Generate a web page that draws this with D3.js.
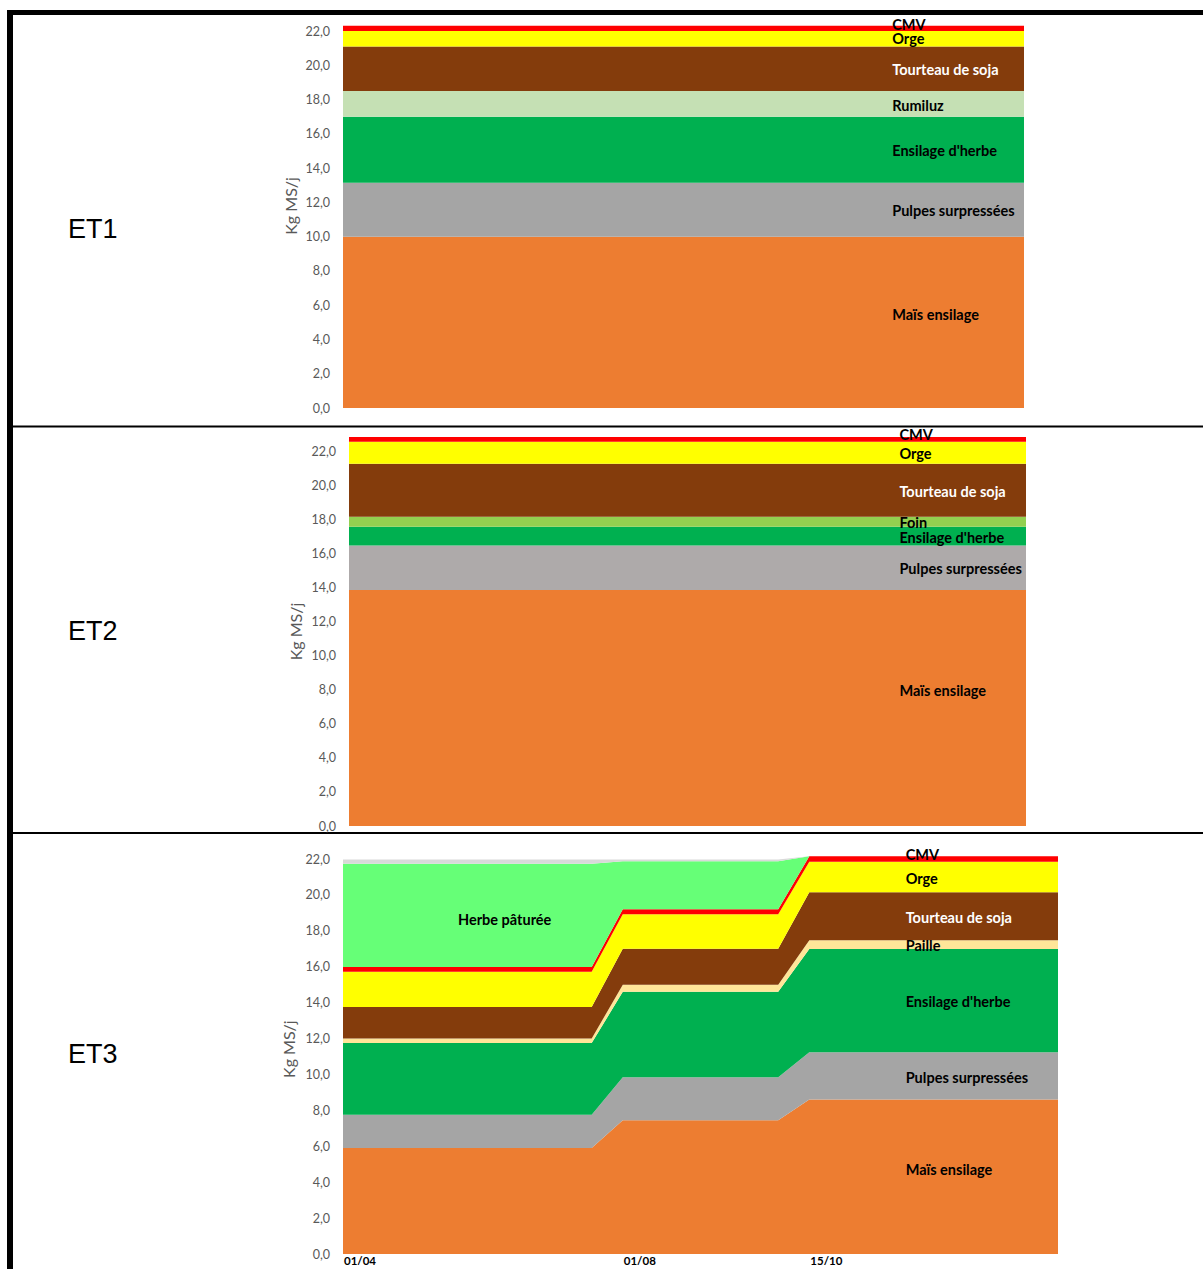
<!DOCTYPE html>
<html>
<head>
<meta charset="utf-8">
<script src="https://cdn.jsdelivr.net/npm/d3@7/dist/d3.min.js"></script>
<style>
  body { margin: 0; background: #fff; }
  svg { display: block; }
</style>
</head>
<body>
<div id="chart"></div>
<script>
// ET1 - ration constante
const et1Series = ['Maïs ensilage', 'Pulpes surpressées', "Ensilage d'herbe", 'Rumiluz', 'Tourteau de soja', 'Orge', 'CMV'];
const et1Values = [10.0, 3.15, 3.85, 1.5, 2.6, 0.9, 0.3];

// ET2 - ration constante
const et2Series = ['Maïs ensilage', 'Pulpes surpressées', "Ensilage d'herbe", 'Foin', 'Tourteau de soja', 'Orge', 'CMV'];
const et2Values = [13.85, 2.6, 1.1, 0.6, 3.1, 1.3, 0.27];

// ET3 - trois périodes
const et3Series = ['Maïs ensilage', 'Pulpes surpressées', "Ensilage d'herbe", 'Paille', 'Tourteau de soja', 'Orge', 'CMV', 'Herbe pâturée', 'Autre'];
const et3Mais = [5.9, 7.45, 8.6];
const et3Pulpes = [1.85, 2.4, 2.64];
const et3EnsHerbe = [4.0, 4.75, 5.75];
const et3Paille = [0.25, 0.4, 0.48];
const et3Tourteau = [1.76, 2.0, 2.68];
const et3Orge = [1.96, 1.92, 1.69];
const et3Cmv = [0.27, 0.28, 0.31];
const et3Herbe = [5.75, 2.67, 0];
const et3Autre = [0.23, 0.1, 0];
const et3PeriodStart = [0, 9, 15];
const et3PeriodEnd = [8, 14, 23];
const et3TickIndex = [0, 9, 15];
const et3TickLabels = ['01/04', '01/08', '15/10'];

const yTicks = [0, 2, 4, 6, 8, 10, 12, 14, 16, 18, 20, 22];

const colors = {
  'Maïs ensilage': '#ED7D31',
  'Pulpes surpressées': '#A5A5A5',
  "Ensilage d'herbe": '#00B050',
  'Rumiluz': '#C5E0B4',
  'Foin': '#92D050',
  'Paille': '#FFE699',
  'Tourteau de soja': '#843C0C',
  'Orge': '#FFFF00',
  'CMV': '#FF0000',
  'Herbe pâturée': '#66FF77',
  'Autre': '#D9D9D9'
};

const svg = d3.select('#chart').append('svg')
  .attr('width', 1203)
  .attr('height', 1269);

// cadre du tableau
svg.append('rect').attr('x', 7).attr('y', 10).attr('width', 1196).attr('height', 5).attr('fill', '#000');
svg.append('rect').attr('x', 7).attr('y', 10).attr('width', 6).attr('height', 1259).attr('fill', '#000');
svg.append('rect').attr('x', 13).attr('y', 425.5).attr('width', 1190).attr('height', 2).attr('fill', '#000');
svg.append('rect').attr('x', 13).attr('y', 832).attr('width', 1190).attr('height', 2).attr('fill', '#000');

function constantRows(series, values) {
  return [0, 23].map((i) => {
    const row = { i };
    series.forEach((s, k) => { row[s] = values[k]; });
    return row;
  });
}

function et3Rows() {
  const cols = [et3Mais, et3Pulpes, et3EnsHerbe, et3Paille, et3Tourteau, et3Orge, et3Cmv, et3Herbe, et3Autre];
  const rows = [];
  et3PeriodStart.forEach((start, p) => {
    [start, et3PeriodEnd[p]].forEach((i) => {
      const row = { i };
      et3Series.forEach((s, k) => { row[s] = cols[k][p]; });
      rows.push(row);
    });
  });
  return rows;
}

function drawPanel(p) {
  const x = d3.scaleLinear().domain([0, 23]).range([p.left, p.right]);
  const y = d3.scaleLinear().domain([0, 22]).range([p.bottom, p.top]);

  const stacked = d3.stack().keys(p.series)(p.rows);

  const area = d3.area()
    .x((d) => x(d.data.i))
    .y0((d) => y(d[0]))
    .y1((d) => y(d[1]));

  const g = svg.append('g');

  g.selectAll('path.layer')
    .data(stacked)
    .enter()
    .append('path')
    .attr('class', 'layer')
    .attr('d', area)
    .attr('fill', (d) => (p.colors && p.colors[d.key]) || colors[d.key]);

  // axe Y
  const yAxis = g.append('g')
    .attr('transform', `translate(${p.left}, 0)`)
    .call(d3.axisLeft(y)
      .tickValues(yTicks)
      .tickSize(0)
      .tickPadding(p.left - p.tickRight)
      .tickFormat((d) => d3.format('.1f')(d).replace('.', ',')));
  yAxis.select('.domain').remove();
  yAxis.selectAll('text')
    .attr('font-family', 'Lato, sans-serif')
    .attr('font-size', 12.5)
    .attr('fill', '#595959');

  // titre axe Y
  const maxTotal = d3.max(stacked[stacked.length - 1], (d) => d[1]);
  g.append('text')
    .attr('transform', `translate(${p.titleX}, ${(y(0) + y(maxTotal)) / 2 + p.titleDy}) rotate(-90)`)
    .attr('text-anchor', 'middle')
    .attr('dominant-baseline', 'middle')
    .attr('font-family', 'Lato, sans-serif')
    .attr('font-size', 16)
    .attr('fill', '#595959')
    .text('Kg MS/j');

  // axe X (ET3 seulement)
  if (p.xTicks) {
    g.selectAll('text.xtick')
      .data(p.xTicks)
      .enter()
      .append('text')
      .attr('class', 'xtick')
      .attr('x', (d) => x(d.i) + 1)
      .attr('y', p.bottom + 8)
      .attr('dominant-baseline', 'middle')
      .attr('font-family', 'Lato, sans-serif')
      .attr('font-weight', 'bold')
      .attr('font-size', 11.5)
      .attr('fill', '#000')
      .text((d) => d.label);
  }

  // étiquettes des séries
  stacked.forEach((layer) => {
    const lab = p.labels[layer.key];
    if (!lab) return;
    const pt = layer[lab.row];
    const mid = (pt[0] + pt[1]) / 2;
    g.append('text')
      .attr('x', x(lab.i))
      .attr('y', y(mid) + 3 + (lab.dy || 0))
      .attr('text-anchor', lab.anchor || 'start')
      .attr('dominant-baseline', 'middle')
      .attr('font-family', 'Lato, sans-serif')
      .attr('font-weight', 'bold')
      .attr('font-size', 14.5)
      .attr('fill', layer.key === 'Tourteau de soja' ? '#fff' : '#000')
      .text(layer.key);
  });

  // étiquette de l'essai
  svg.append('text')
    .attr('x', 68)
    .attr('y', p.nameY)
    .attr('dominant-baseline', 'middle')
    .attr('font-family', 'Liberation Sans, Arial, sans-serif')
    .attr('font-size', 27)
    .attr('fill', '#000')
    .text(p.name);
}

function rightLabels(series, i, row, nudges) {
  const out = {};
  series.forEach((s) => { out[s] = { i, row, dy: nudges[s] || 0 }; });
  return out;
}

drawPanel({
  name: 'ET1', nameY: 231,
  series: et1Series, rows: constantRows(et1Series, et1Values),
  left: 343, right: 1024, top: 31, bottom: 408, tickRight: 330, titleX: 293, titleDy: -11,
  labels: rightLabels(et1Series, 18.55, 1, { 'CMV': -5, 'Orge': -1, 'Maïs ensilage': -9 })
});

drawPanel({
  name: 'ET2', nameY: 633,
  series: et2Series, rows: constantRows(et2Series, et2Values),
  left: 349, right: 1026, top: 451, bottom: 826, tickRight: 336, titleX: 298, titleDy: 0,
  colors: { 'Pulpes surpressées': '#AEAAAA' },
  labels: rightLabels(et2Series, 18.7, 1, { 'CMV': -6, 'Foin': 0, 'Maïs ensilage': -19 })
});

const et3Labels = rightLabels(et3Series.slice(0, 7), 18.1, 5, { 'CMV': -6, 'Orge': 0, 'Maïs ensilage': -9 });
et3Labels['Herbe pâturée'] = { i: 5.2, row: 0, anchor: 'middle', dy: 3 };

drawPanel({
  name: 'ET3', nameY: 1056,
  series: et3Series, rows: et3Rows(),
  left: 343, right: 1058, top: 859, bottom: 1254, tickRight: 330, titleX: 291, titleDy: -6,
  xTicks: et3TickIndex.map((i, k) => ({ i, label: et3TickLabels[k] })),
  labels: et3Labels
});
</script>
</body>
</html>
